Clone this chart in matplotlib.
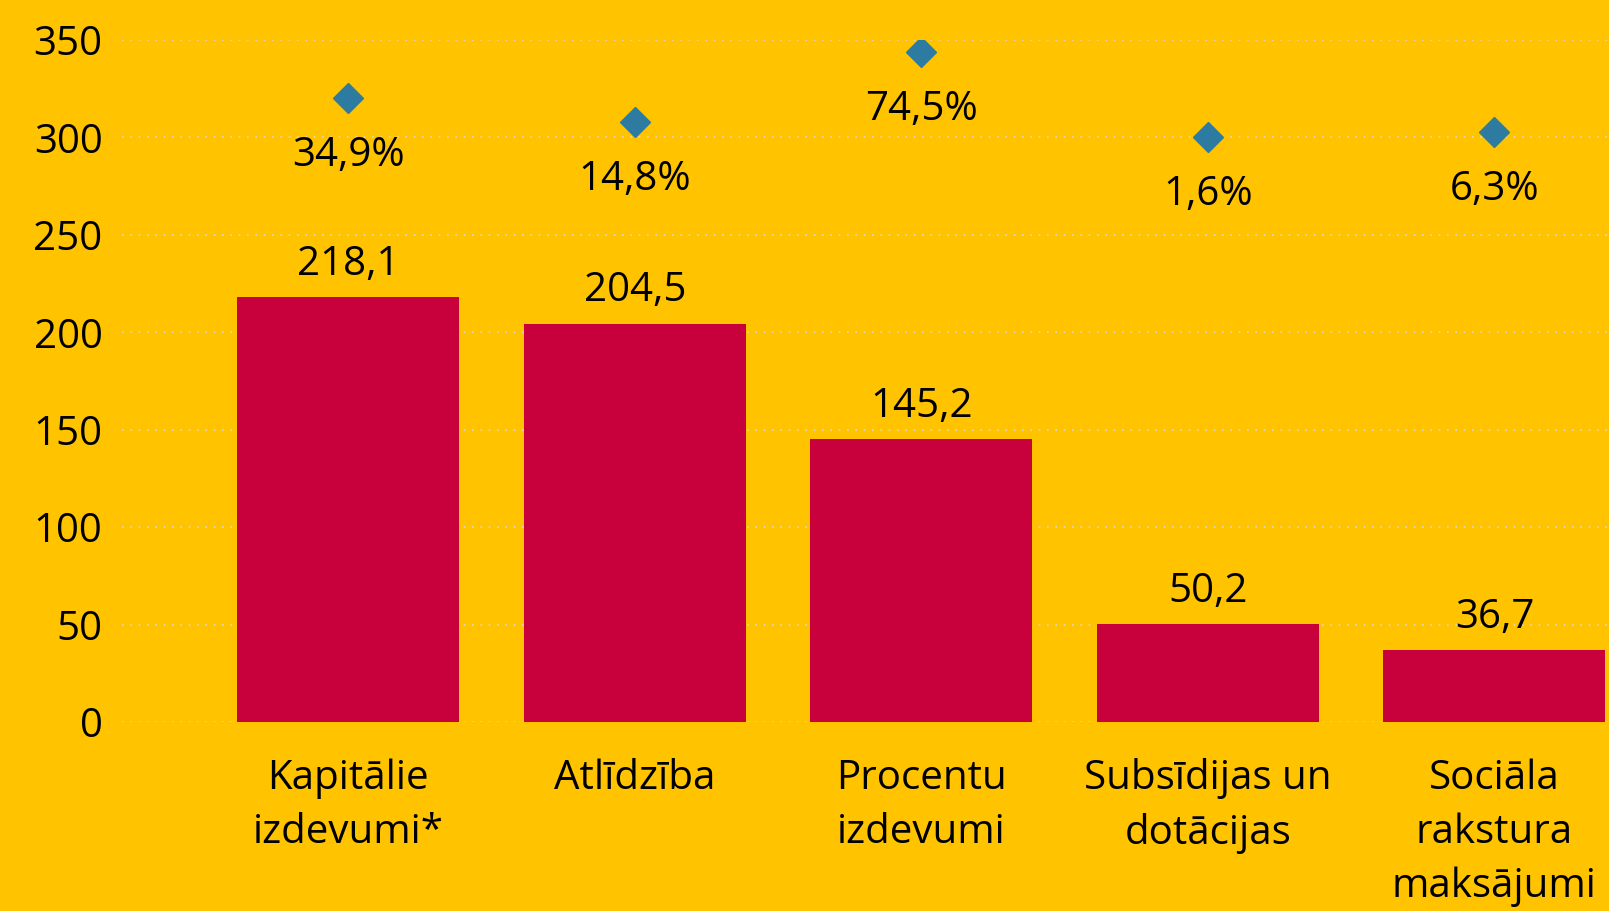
import matplotlib.pyplot as plt

categories = ['Kapitālie\nizdevumi*', 'Atlīdzība', 'Procentu\nizdevumi',
              'Subsīdijas un\ndotācijas', 'Sociāla\nrakstura\nmaksājumi']
values = [218.1, 204.5, 145.2, 50.2, 36.7]
growth = [34.9, 14.8, 74.5, 1.6, 6.3]

bg = '#FFC300'
bar_color = '#C8003C'
marker_color = '#2D7BA0'
fs = 29

plt.rcParams['font.family'] = ['Open Sans', 'DejaVu Sans']

fig = plt.figure(figsize=(16.09, 9.11), dpi=100, facecolor=bg)
ax = fig.add_axes([122 / 1609, 189 / 911, 1 - 122 / 1609, 682 / 911])
ax.set_facecolor(bg)

x = list(range(len(categories)))
ax.bar(x, values, width=0.775, color=bar_color, zorder=2)

ax.set_ylim(0, 350)
ax.set_xlim(-0.79, 4.40)
ax.set_yticks(range(0, 351, 50))
ax.grid(axis='y', color='#D8D8D8', linestyle=(0, (1, 4)), linewidth=1.2, zorder=0)
for s in ax.spines.values():
    s.set_visible(False)
ax.tick_params(axis='y', length=0, pad=14, labelsize=fs)
ax.tick_params(axis='x', length=0, pad=26, labelsize=fs)
ax.set_xticks(x)
ax.set_xticklabels(categories, linespacing=1.45)

for xi, v in zip(x, values):
    ax.annotate(f'{v:.1f}'.replace('.', ','), (xi, v), xytext=(0, 9),
                textcoords='offset points', ha='center', va='bottom', fontsize=fs)

# second axis for the growth markers
ax2 = ax.twinx()
ax2.set_ylim(-500, 85)
ax2.axis('off')
ax2.plot(x, growth, linestyle='none', marker='D', markersize=15,
         color=marker_color, zorder=3)
for xi, g in zip(x, growth):
    ax2.annotate(f'{g:.1f}%'.replace('.', ','), (xi, g), xytext=(0, -27),
                 textcoords='offset points', ha='center', va='top', fontsize=fs)

fig.savefig('out.png', facecolor=bg)
